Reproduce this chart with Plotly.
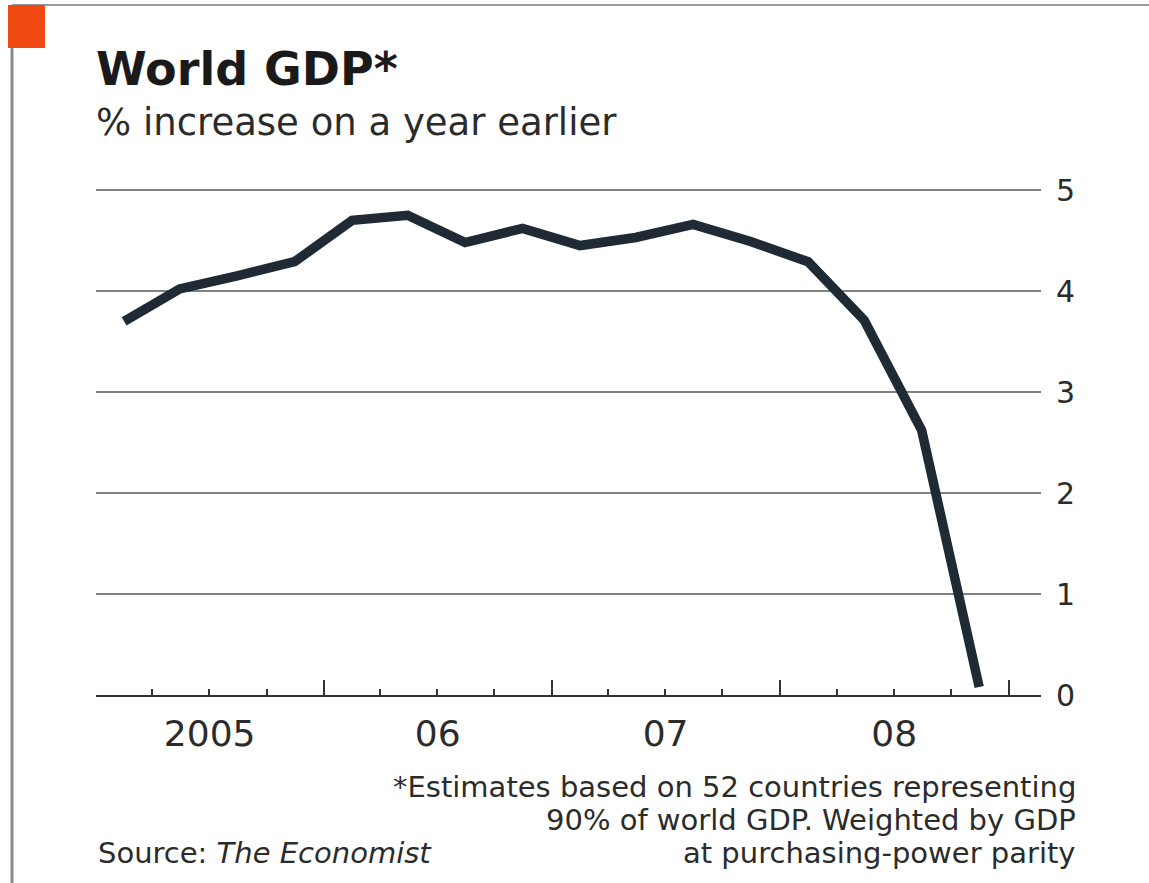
import plotly.graph_objects as go

# ---- data ----
quarters = ["2005-02-15", "2005-05-15", "2005-08-15", "2005-11-15",
            "2006-02-15", "2006-05-15", "2006-08-15", "2006-11-15",
            "2007-02-15", "2007-05-15", "2007-08-15", "2007-11-15",
            "2008-02-15", "2008-05-15", "2008-08-15", "2008-11-15"]
gdp_growth = [3.70, 4.02, 4.15, 4.29,
              4.70, 4.75, 4.48, 4.62,
              4.45, 4.53, 4.66, 4.49,
              4.29, 3.71, 2.62, 0.08]
year_starts = ["2005-01-01", "2006-01-01", "2007-01-01", "2008-01-01", "2009-01-01"]
quarter_ticks = [f"{y}-{m}-01" for y in (2005, 2006, 2007, 2008) for m in ("04", "07", "10")]
year_label_pos = ["2005-07-02", "2006-07-02", "2007-07-02", "2008-07-02"]
year_labels = ["2005", "06", "07", "08"]
y_ticks = [0, 1, 2, 3, 4, 5]

title = "World GDP*"
subtitle = "% increase on a year earlier"
footnote_lines = ["*Estimates based on 52 countries representing",
                  "90% of world GDP. Weighted by GDP",
                  "at purchasing-power parity"]
source = "Source: <i>The Economist</i>"

# ---- layout geometry (pixels) ----
W, H = 1149, 883
L, R, T, B = 96, 1041, 189, 695
Y_MAX = 5.01


def px(x):
    return (x - L) / (R - L)


def py(y):
    return (B - y) / (B - T)


FONT = "DejaVu Sans"
TXT = "#2b2b2b"

fig = go.Figure()
fig.add_trace(go.Scatter(
    x=quarters, y=gdp_growth, mode="lines",
    line=dict(color="#1f2a35", width=9.5),
    cliponaxis=False, hoverinfo="skip", showlegend=False,
))
# invisible helper trace so the label axis is drawn
fig.add_trace(go.Scatter(x=[year_label_pos[0]], y=[None], xaxis="x2", yaxis="y",
                         mode="lines", showlegend=False, hoverinfo="skip"))

fig.update_layout(
    width=W, height=H,
    margin=dict(l=L, r=W - R, t=T, b=H - B, pad=0),
    paper_bgcolor="white", plot_bgcolor="white",
    showlegend=False,
    xaxis=dict(
        type="date", range=["2005-01-01", "2009-02-22"],
        showline=True, linecolor="#333333", linewidth=2,
        showgrid=False, zeroline=False,
        tickvals=year_starts, showticklabels=False,
        ticks="inside", ticklen=15, tickwidth=2, tickcolor="#333333",
        minor=dict(tickvals=quarter_ticks, ticks="inside", ticklen=6,
                   tickwidth=2, tickcolor="#333333", showgrid=False),
    ),
    xaxis2=dict(
        type="date", range=["2005-01-01", "2009-02-22"],
        overlaying="x", anchor="y", side="bottom",
        showline=False, showgrid=False, zeroline=False,
        tickvals=year_label_pos, ticktext=year_labels, ticks="",
        tickfont=dict(family=FONT, size=36, color=TXT),
        ticklabelstandoff=14,
    ),
    yaxis=dict(
        range=[0, Y_MAX], side="right",
        tickvals=y_ticks, ticks="",
        showgrid=True, gridcolor="#808080", gridwidth=2,
        zeroline=False, showline=False,
        tickfont=dict(family=FONT, size=30, color=TXT),
        ticklabelstandoff=14,
    ),
)

# decorations: frame lines and red tab
fig.add_shape(type="line", xref="paper", yref="paper",
              x0=px(12), x1=px(W), y0=py(5), y1=py(5),
              line=dict(color="#9a9a9a", width=2), layer="below")
fig.add_shape(type="line", xref="paper", yref="paper",
              x0=px(12), x1=px(12), y0=py(5), y1=py(H),
              line=dict(color="#8a8a8a", width=3), layer="below")
fig.add_shape(type="rect", xref="paper", yref="paper",
              x0=px(8), x1=px(45), y0=py(5), y1=py(48),
              fillcolor="#f04a12", line=dict(width=0), layer="above")

# texts
fig.add_annotation(text=f"<b>{title}</b>", xref="paper", yref="paper",
                   x=px(94), y=py(69), xanchor="left", yanchor="middle",
                   showarrow=False, font=dict(family=FONT, size=46, color="#1a1a1a"))
fig.add_annotation(text=subtitle, xref="paper", yref="paper",
                   x=px(94), y=py(122), xanchor="left", yanchor="middle",
                   showarrow=False, font=dict(family=FONT, size=37, color=TXT))
for i, line in enumerate(footnote_lines):
    fig.add_annotation(text=line, xref="paper", yref="paper",
                       x=px(1078), y=py(787 + 33 * i), xanchor="right", yanchor="middle",
                       showarrow=False, font=dict(family=FONT, size=29, color=TXT))
fig.add_annotation(text=source, xref="paper", yref="paper",
                   x=px(96), y=py(853), xanchor="left", yanchor="middle",
                   showarrow=False, font=dict(family=FONT, size=29, color=TXT))

fig.write_html("out.html")
